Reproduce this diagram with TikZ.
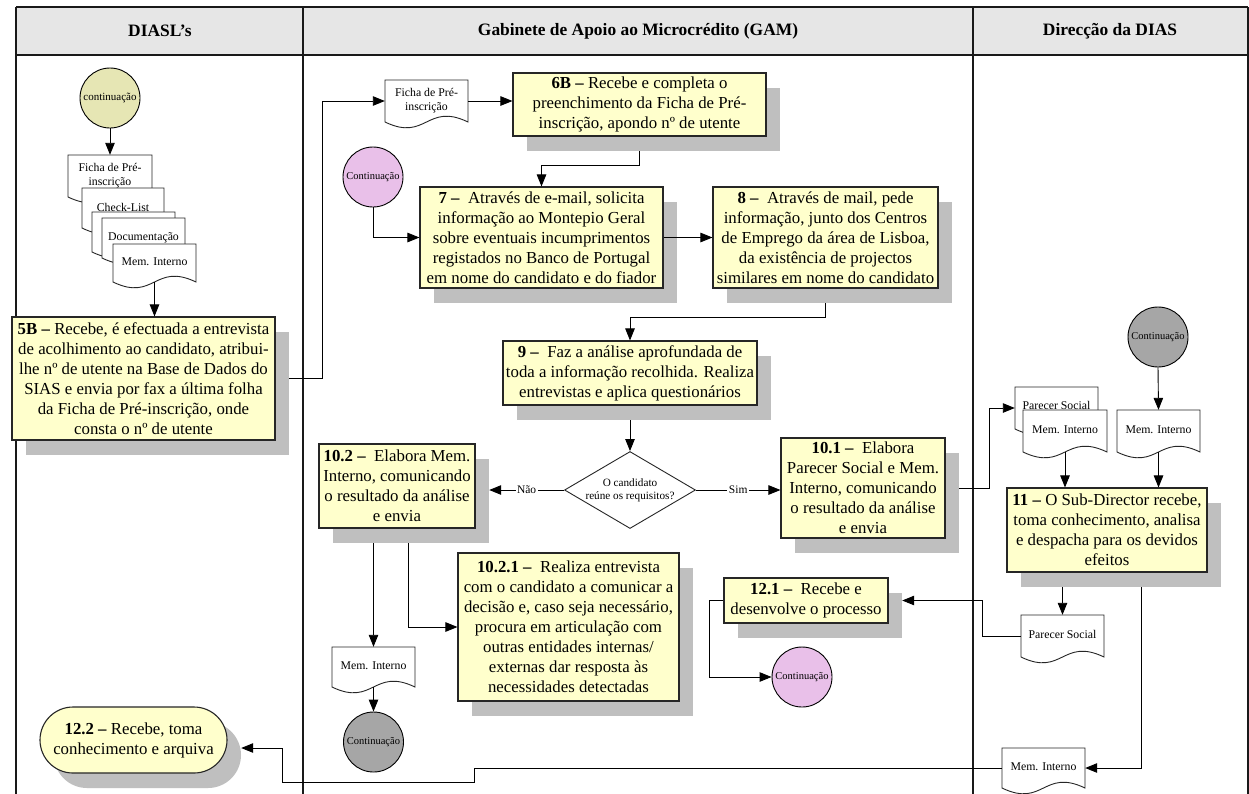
\documentclass[tikz,border=0pt]{standalone}
\usepackage{fontspec}
\setmainfont{Liberation Serif}
\usetikzlibrary{arrows.meta,shapes.geometric,calc}

\definecolor{procfill}{HTML}{FFFFCC}
\definecolor{shadowgray}{HTML}{BFBFBF}
\definecolor{headfill}{HTML}{E6E6E6}
\definecolor{olivecirc}{HTML}{E6E6B4}
\definecolor{pinkcirc}{HTML}{E9C0E9}
\definecolor{graycirc}{HTML}{A6A6A6}

\tikzset{
  boxfont/.style={font=\fontsize{16.8}{20}\selectfont},
  procbox/.style={draw=black!85, line width=1.1pt, fill=procfill, inner sep=0pt, align=center, boxfont},
  shadowbox/.style={fill=shadowgray, draw=none, inner sep=0pt},
  docline/.style={draw=black!85, line width=0.9pt, fill=white},
  doctext/.style={inner sep=0pt, align=center, font=\fontsize{11.8}{14}\selectfont},
  conn/.style={draw=black, line width=0.9pt, -{Triangle[length=12pt,width=9.5pt]}},
  circ/.style={circle, draw=black, line width=0.9pt, minimum size=60pt, inner sep=0pt, font=\fontsize{10.5}{12}\selectfont},
  lane/.style={draw=black!90, line width=1.2pt},
  headtext/.style={font=\bfseries\fontsize{17.4}{20}\selectfont},
  branch/.style={fill=white, inner sep=1.5pt, font=\fontsize{11.5}{13}\selectfont},
  decision/.style={diamond, draw=black!85, line width=0.9pt, fill=white, aspect=1.7,
    minimum width=131pt, minimum height=77pt, inner sep=0pt, align=center,
    font=\fontsize{11.2}{13}\selectfont},
}

% process box with its drop shadow: name, left, top, right, bottom, text
\newcommand\procstep[6]{%
  \node[shadowbox, minimum width={#4-#2}, minimum height={#5-#3}] (#1-s)
    at ({(#2+#4)/2+14},{(#3+#5)/2+15}) {};
  \node[procbox, minimum width={#4-#2}, minimum height={#5-#3}] (#1)
    at ({(#2+#4)/2},{(#3+#5)/2}) {#6};}

% document sheet with wavy lower edge: name, left, top, width, height, text
\newcommand\docpaper[6]{%
  \path[docline] (#2,#3) -- ({#2+#4},#3) -- ({#2+#4},{#3+#5})
    .. controls ({#2+#4/2},{#3+#5-20}) and ({#2+#4/2},{#3+#5+20}) .. (#2,{#3+#5}) -- cycle;
  \node[doctext, minimum width=#4, minimum height=#5] (#1) at ({#2+#4/2},{#3+#5/2}) {#6};}

\begin{document}
\begin{tikzpicture}[x=1pt,y=-1pt]
\useasboundingbox (0,0) rectangle (1249,793);
\fill[white] (0,0) rectangle (1249,793);

% swimlane header and lanes
\fill[headfill] (16,7) rectangle (1248,55);
\draw[lane] (16,7) -- (1248,7);
\draw[lane] (16,55) -- (1248,55);
\draw[lane] (16,7) -- (16,795);
\draw[lane] (303,7) -- (303,795);
\draw[lane] (973,7) -- (973,795);
\draw[lane] (1248,7) -- (1248,795);
\node[headtext] (h1) at (160,31) {DIASL’s};
\node[headtext] (h2) at (638,31) {Gabinete de Apoio ao Microcrédito (GAM)};
\node[headtext] (h3) at (1110,31) {Direcção da DIAS};

% ---- DIASL's ----
\node[circ, fill=olivecirc, font=\fontsize{11}{12}\selectfont] (cont1) at (110,98) {continuação};
\docpaper{dFicha}{68}{155}{84}{42}{Ficha de Pré-\\inscrição}
\docpaper{dCheck}{82}{188}{82}{40}{\raisebox{2pt}{Check-List}}
\docpaper{dBlank}{92}{212}{83}{40}{}
\docpaper{dDoc}{102}{218}{83}{40}{\raisebox{2pt}{Documentação}}
\docpaper{dMemA}{113}{244}{83}{38}{\raisebox{2pt}{Mem. Interno}}

\procstep{b5B}{12}{317}{275}{440}{\textbf{5B –} Recebe, é efectuada a entrevista\\de acolhimento ao candidato, atribui-\\lhe nº de utente na Base de Dados do\\SIAS e envia por fax a última folha\\da Ficha de Pré-inscrição, onde\\consta o nº de utente}

\node[shadowbox, rounded corners=33pt, minimum width=187pt, minimum height=66pt] (b122-s) at (147.5,755) {};
\node[procbox, rounded corners=33pt, minimum width=187pt, minimum height=66pt] (b122) at (133.5,740)
  {\textbf{12.2 –} Recebe, toma\\conhecimento e arquiva};
\coordinate (e122) at ([yshift=7pt]b122-s.east);

% ---- GAM ----
\docpaper{ficha2}{385}{80}{83}{42}{Ficha de Pré-\\inscrição}
\procstep{b6B}{513}{73}{766}{136}{\textbf{6B –} Recebe e completa o\\preenchimento da Ficha de Pré-\\inscrição, apondo nº de utente}
\node[circ, fill=pinkcirc] (cont2) at (373,177) {Continuação};
\procstep{b7}{420}{187}{663}{288}{\textbf{7 –}\ \ Através de e-mail, solicita\\informação ao Montepio Geral\\sobre eventuais incumprimentos\\registados no Banco de Portugal\\em nome do candidato e do fiador}
\procstep{b8}{713}{187}{938}{288}{\textbf{8 –}\ \ Através de mail, pede\\informação, junto dos Centros\\de Emprego da área de Lisboa,\\da existência de projectos\\similares em nome do candidato}
\procstep{b9}{503}{341}{757}{405}{\textbf{9 –}\ \ Faz a análise aprofundada de\\toda a informação recolhida. Realiza\\entrevistas e aplica questionários}
\node[decision] (dec) at (630,490) {O candidato\\reúne os requisitos?};
\procstep{b102}{319}{444}{475}{528}{\textbf{10.2 –}\ \ Elabora Mem.\\Interno, comunicando\\o resultado da análise\\e envia}
\procstep{b101}{781}{438}{945}{538}{\textbf{10.1 –}\ \ Elabora\\Parecer Social e Mem.\\Interno, comunicando\\o resultado da análise\\e envia}
\procstep{b1021}{458}{553}{679}{701}{\textbf{10.2.1 –}\ \ Realiza entrevista\\com o candidato a comunicar a\\decisão e, caso seja necessário,\\procura em articulação com\\outras entidades internas/\\externas dar resposta às\\necessidades detectadas}
\procstep{b121}{724}{578}{888}{623}{\textbf{12.1 –}\ \ Recebe e\\desenvolve o processo}
\node[circ, fill=pinkcirc] (cont4) at (802,677) {Continuação};
\docpaper{memE}{332}{647}{83}{40}{\raisebox{2pt}{Mem. Interno}}
\node[circ, fill=graycirc] (cont5) at (373.5,742) {Continuação};

% ---- Direcção da DIAS ----
\node[circ, fill=graycirc] (cont3) at (1158,337) {Continuação};
\docpaper{parecer1}{1015}{387}{83}{42}{\raisebox{6pt}{Parecer Social}}
\docpaper{memB}{1023}{410}{84}{42}{\raisebox{3pt}{Mem. Interno}}
\docpaper{memC}{1117}{410}{83}{42}{\raisebox{3pt}{Mem. Interno}}
\procstep{b11}{1007}{488}{1207}{572}{\textbf{11 –} O Sub-Director recebe,\\toma conhecimento, analisa\\e despacha para os devidos\\efeitos}
\docpaper{parecer2}{1021}{615}{83}{42}{\raisebox{3pt}{Parecer Social}}
\docpaper{memD}{1002}{748}{83}{40}{\raisebox{2pt}{Mem. Interno}}

% ---- connectors ----
\draw[conn] (cont1.south) -- (dFicha.north);
\draw[conn] (dMemA.south) -- (dMemA.south |- b5B.north);
\draw[conn] (b5B.east -| b5B-s.east) -- ++(33,0) |- (ficha2.west);
\draw[conn] (ficha2.east) -- (ficha2.east -| b6B.west);
\draw[conn] (b6B.south |- b6B-s.south) -- ++(0,14) -| (b7.north);
\draw[conn] (cont2.south) |- (b7.west);
\draw[conn] (b7.east) -- (b7.east -| b8.west);
\draw[conn] (b8.south |- b8-s.south) -- ++(0,14) -| (b9.north);
\draw[conn] (b9.south |- b9-s.south) -- (dec.north);
\draw[conn] (dec.west) -- (dec.west -| b102-s.east) node[branch, pos=0.5] {Não};
\draw[conn] (dec.east) -- (dec.east -| b101.west) node[branch, pos=0.5] {Sim};
\draw[conn] (b101.east -| b101-s.east) -- ++(30,0) |- (parecer1.west);
\draw[conn] (cont3.south) -- (memC.north);
\draw[conn] (memB.south) -- (memB.south |- b11.north);
\draw[conn] (memC.south) -- (memC.south |- b11.north);
\draw[conn] (parecer2.north |- b11-s.south) -- (parecer2.north);
\draw[conn] (parecer2.west) -- ++(-38,0) |- (b121.east -| b121-s.east);
\draw[conn] (b121.west) -- ++(-14,0) |- (cont4.west);
\draw[conn] ([xshift=20pt]b11-s.south) |- (memD.east);
\draw[conn] (memD.west) -| ++(-527,14) -- ++(-192,0) |- (e122);
\draw[conn] (memE.north |- b102-s.south) -- (memE.north);
\draw[conn] (memE.south) -- (cont5.north);
\draw[conn] ([xshift=-3pt]b102-s.south) |- (b1021.west);
\end{tikzpicture}
\end{document}
